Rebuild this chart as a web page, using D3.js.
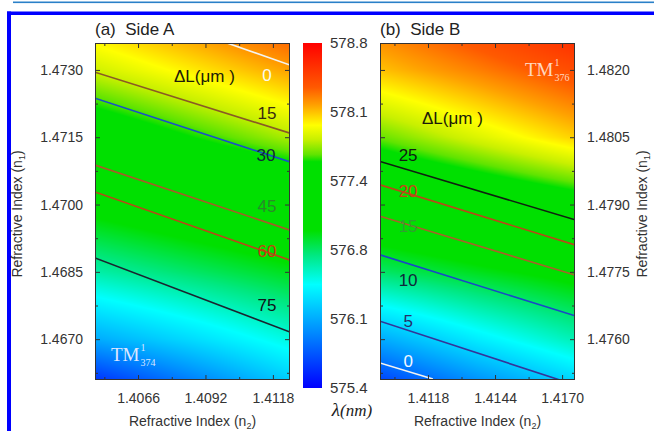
<!DOCTYPE html>
<html>
<head>
<meta charset="utf-8">
<script src="https://cdn.jsdelivr.net/npm/d3@7"></script>
<style>
  body { margin: 0; background: #fff; }
  svg { display: block; font-family: "Liberation Sans", Arial, sans-serif; }
</style>
</head>
<body>
<script>
// wavelength colour bar
const lambdaTickValues = [575.4, 576.08, 576.76, 577.44, 578.12, 578.8];
const lambdaStops = [575.4, 575.97, 576.42, 576.71, 576.95, 577.63, 577.7, 577.85, 577.99, 578.19, 578.36, 578.8];
const lambdaColors = ['#0000ff', '#0090ff', '#00ffff', '#00e880', '#00e000', '#00e000', '#60e400', '#c8f000', '#ffff00', '#ffa000', '#ff5a00', '#ff0000'];

// side A : wavelength read at grid nodes (rows = n1 ascending, cols = n2)
const gridA_n2 = [1.40494, 1.4087, 1.41246];
const gridA_n1 = [1.46609, 1.4670, 1.4685, 1.4700, 1.4715, 1.4730, 1.4736];
const gridA_lambda = [
    [575.60, 575.91, 576.22],
    [576.08, 576.28, 576.49],
    [576.62, 576.76, 576.90],
    [577.03, 577.17, 577.30],
    [577.44, 577.63, 577.81],
    [577.87, 578.03, 578.19],
    [578.00, 578.16, 578.32]
];
// side B
const gridB_n2 = [1.40994, 1.41372, 1.4175];
const gridB_n1 = [1.47509, 1.4760, 1.4775, 1.4790, 1.4805, 1.4820, 1.4826];
const gridB_lambda = [
    [575.67, 575.98, 576.25],
    [576.08, 576.35, 576.59],
    [576.76, 576.90, 577.03],
    [577.24, 577.37, 577.51],
    [577.71, 577.90, 578.09],
    [578.12, 578.27, 578.43],
    [578.22, 578.39, 578.56]
];

// delta L contours : [n2, n1] points
const levelsA = [0, 15, 30, 45, 60, 75];
const linesA = [
    [[1.41003, 1.4736], [1.41246, 1.47311]],
    [[1.40494, 1.47295], [1.41246, 1.47159]],
    [[1.40494, 1.47237], [1.41246, 1.47095]],
    [[1.40494, 1.47088], [1.41246, 1.46943]],
    [[1.40494, 1.47028], [1.41246, 1.46876]],
    [[1.40494, 1.46881], [1.41246, 1.46716]]
];
const labelPosA = [[1.41157, 1.47289], [1.41157, 1.47204], [1.41153, 1.47110], [1.41157, 1.46997], [1.41157, 1.46897], [1.41157, 1.46776]];

const levelsB = [25, 20, 15, 10, 5, 0];
const linesB = [
    [[1.40994, 1.47996], [1.4175, 1.47866]],
    [[1.40994, 1.47944], [1.4175, 1.47810]],
    [[1.40994, 1.47874], [1.4175, 1.47743]],
    [[1.40994, 1.47788], [1.4175, 1.47652]],
    [[1.40994, 1.47640], [1.4175, 1.47498]],
    [[1.40994, 1.47547], [1.41199, 1.47511]]
];
const labelPosB = [[1.41103, 1.48010], [1.41103, 1.47930], [1.41103, 1.47852], [1.41103, 1.47732], [1.41103, 1.47640], [1.41103, 1.47551]];

const lineColorsA = ['#f4f4f0', '#8a5a24', '#1a50c8', '#a85a28', '#b84818', '#1a2430'];
const textColorsA = ['#fafaf0', '#3a2a10', '#102838', '#2a8a2a', '#c83a10', '#101418'];
const lineColorsB = ['#102010', '#b84818', '#a8602a', '#1a48c8', '#34349a', '#f4f4f0'];
const textColorsB = ['#101c10', '#c84018', '#30a030', '#10283a', '#26306a', '#f4f8ff'];

const width = 654, height = 431;

const color = d3.scaleLinear().domain(lambdaStops).range(lambdaColors).clamp(true);

const svg = d3.select("body").append("svg")
    .attr("width", width)
    .attr("height", height);

// page frame lines
svg.append("rect").attr("x", 13).attr("y", 1.5).attr("width", width - 13).attr("height", 1.6).attr("fill", "#2a80c8");
svg.append("rect").attr("x", 7).attr("y", 11.5).attr("width", width - 7).attr("height", 3.5).attr("fill", "#0000ff");
svg.append("rect").attr("x", 7).attr("y", 11.5).attr("width", 4).attr("height", height).attr("fill", "#0000ff");

function bilinear(gx, gy, gv, x, y) {
    let i = Math.min(Math.max(d3.bisectRight(gy, y) - 1, 0), gy.length - 2);
    let j = Math.min(Math.max(d3.bisectRight(gx, x) - 1, 0), gx.length - 2);
    let ty = (y - gy[i]) / (gy[i + 1] - gy[i]);
    let tx = (x - gx[j]) / (gx[j + 1] - gx[j]);
    let a = gv[i][j] * (1 - tx) + gv[i][j + 1] * tx;
    let b = gv[i + 1][j] * (1 - tx) + gv[i + 1][j + 1] * tx;
    return a * (1 - ty) + b * ty;
}

function drawPanel(opt) {
    const x = d3.scaleLinear().domain(opt.xDomain).range([opt.left, opt.left + 195]);
    const y = d3.scaleLinear().domain(opt.yDomain).range([380, 43]);
    const w = 195, h = 337;

    // heatmap
    const canvas = document.createElement("canvas");
    canvas.width = w; canvas.height = h;
    const ctx = canvas.getContext("2d");
    const img = ctx.createImageData(w, h);
    for (let py = 0; py < h; py++) {
        const n1 = y.invert(43 + py + 0.5);
        for (let px = 0; px < w; px++) {
            const n2 = x.invert(opt.left + px + 0.5);
            const c = d3.rgb(color(bilinear(opt.gx, opt.gy, opt.gv, n2, n1)));
            const k = (py * w + px) * 4;
            img.data[k] = c.r; img.data[k + 1] = c.g; img.data[k + 2] = c.b; img.data[k + 3] = 255;
        }
    }
    ctx.putImageData(img, 0, 0);
    svg.append("image")
        .attr("x", opt.left).attr("y", 43)
        .attr("width", w).attr("height", h)
        .attr("href", canvas.toDataURL());

    svg.append("clipPath").attr("id", opt.id + "clip")
        .append("rect").attr("x", opt.left).attr("y", 43).attr("width", w).attr("height", h);

    const line = d3.line().x(d => x(d[0])).y(d => y(d[1]));
    svg.append("g").attr("clip-path", "url(#" + opt.id + "clip)")
        .selectAll("path")
        .data(opt.lines)
        .enter()
        .append("path")
        .attr("d", line)
        .attr("fill", "none")
        .attr("stroke", (d, i) => opt.lineColors[i])
        .attr("stroke-width", 1.6);

    svg.append("g").selectAll("text")
        .data(opt.levels)
        .enter()
        .append("text")
        .attr("x", (d, i) => x(opt.labelPos[i][0]))
        .attr("y", (d, i) => y(opt.labelPos[i][1]))
        .attr("dy", "0.36em")
        .attr("text-anchor", "middle")
        .attr("font-size", 17)
        .attr("fill", (d, i) => opt.textColors[i])
        .text(d => d);

    // axes with inward ticks
    const fmt = d3.format(".4f");
    const tickStyle = g => {
        g.select(".domain").remove();
        g.selectAll("line").attr("stroke", "#333");
        g.selectAll("text").attr("fill", "#333").attr("font-size", 14)
            .attr("font-family", '"Liberation Sans", Arial, sans-serif');
    };
    svg.append("g").attr("transform", "translate(0,380)")
        .call(d3.axisBottom(x).tickValues(opt.xMajor).tickSize(-5).tickPadding(13).tickFormat(fmt)).call(tickStyle);
    svg.append("g").attr("transform", "translate(0,380)")
        .call(d3.axisBottom(x).tickValues(opt.xMinor).tickSize(-3).tickFormat("")).call(tickStyle);
    svg.append("g").attr("transform", "translate(0,43)")
        .call(d3.axisTop(x).tickValues(opt.xMajor).tickSize(-5).tickFormat("")).call(tickStyle);
    svg.append("g").attr("transform", "translate(0,43)")
        .call(d3.axisTop(x).tickValues(opt.xMinor).tickSize(-3).tickFormat("")).call(tickStyle);

    const L = opt.left, R = opt.left + w;
    svg.append("g").attr("transform", "translate(" + L + ",0)")
        .call(d3.axisLeft(y).tickValues(opt.yMajor).tickSize(-5).tickPadding(12).tickFormat(opt.labelSide === "left" ? fmt : "")).call(tickStyle);
    svg.append("g").attr("transform", "translate(" + L + ",0)")
        .call(d3.axisLeft(y).tickValues(opt.yMinor).tickSize(-3).tickFormat("")).call(tickStyle);
    svg.append("g").attr("transform", "translate(" + R + ",0)")
        .call(d3.axisRight(y).tickValues(opt.yMajor).tickSize(-5).tickPadding(12).tickFormat(opt.labelSide === "right" ? fmt : "")).call(tickStyle);
    svg.append("g").attr("transform", "translate(" + R + ",0)")
        .call(d3.axisRight(y).tickValues(opt.yMinor).tickSize(-3).tickFormat("")).call(tickStyle);

    svg.append("rect").attr("x", L + 0.5).attr("y", 43.5).attr("width", w - 1).attr("height", h - 1)
        .attr("fill", "none").attr("stroke", "#333").attr("stroke-width", 1);

    // title
    svg.append("text").attr("x", L).attr("y", 35).attr("font-size", 17).attr("fill", "#222")
        .attr("xml:space", "preserve").text(opt.title);

    // delta L caption
    svg.append("text").attr("x", opt.dlX).attr("y", opt.dlY).attr("font-size", 17).attr("fill", "#1c1c08")
        .attr("dy", "0.36em").text("\u0394L(\u03bcm )");

    // x-axis title
    const xt = svg.append("text").attr("x", L + w / 2).attr("y", 426).attr("text-anchor", "middle")
        .attr("font-size", 14).attr("fill", "#333");
    xt.append("tspan").text("Refractive Index (n");
    xt.append("tspan").attr("font-size", 9).attr("dy", 3).text("2");
    xt.append("tspan").attr("dy", -3).text(")");

    // TM mode label
    const tm = svg.append("g").attr("transform", "translate(" + opt.tmX + "," + opt.tmY + ")")
        .attr("font-family", '"Liberation Serif", "Times New Roman", serif').attr("fill", opt.tmColor);
    const tmt = tm.append("text").attr("font-size", 19).text("TM");
    const tw = tmt.node().getComputedTextLength();
    tm.append("text").attr("x", tw + 1).attr("y", -10).attr("font-size", 10).text("1");
    tm.append("text").attr("x", tw + 1).attr("y", 5).attr("font-size", 10).text(opt.tmSub);
}

drawPanel({
    id: "a", left: 95,
    xDomain: [1.40494, 1.41246], yDomain: [1.46609, 1.4736],
    gx: gridA_n2, gy: gridA_n1, gv: gridA_lambda,
    lines: linesA, levels: levelsA, labelPos: labelPosA,
    lineColors: lineColorsA, textColors: textColorsA,
    xMajor: [1.4066, 1.4092, 1.4118], xMinor: [1.4053, 1.4079, 1.4105],
    yMajor: [1.4670, 1.4685, 1.4700, 1.4715, 1.4730], yMinor: [1.46625, 1.46775, 1.46925, 1.47075, 1.47225],
    labelSide: "left", title: "(a)  Side A",
    dlX: 174, dlY: 76,
    tmX: 111, tmY: 361, tmSub: "374", tmColor: "#dde6ff"
});

drawPanel({
    id: "b", left: 380,
    xDomain: [1.40994, 1.4175], yDomain: [1.47509, 1.4826],
    gx: gridB_n2, gy: gridB_n1, gv: gridB_lambda,
    lines: linesB, levels: levelsB, labelPos: labelPosB,
    lineColors: lineColorsB, textColors: textColorsB,
    xMajor: [1.4118, 1.4144, 1.4170], xMinor: [1.4105, 1.4131, 1.4157],
    yMajor: [1.4760, 1.4775, 1.4790, 1.4805, 1.4820], yMinor: [1.47525, 1.47675, 1.47825, 1.47975, 1.48125],
    labelSide: "right", title: "(b)  Side B",
    dlX: 422, dlY: 118,
    tmX: 525, tmY: 76, tmSub: "376", tmColor: "#ffd8c0"
});

// y-axis titles
function yTitle(cx) {
    const t = svg.append("text").attr("transform", "translate(" + cx + ",214) rotate(-90)")
        .attr("text-anchor", "middle").attr("font-size", 14).attr("fill", "#333");
    t.append("tspan").text("Refractive Index (n");
    t.append("tspan").attr("font-size", 9).attr("dy", 3).text("1");
    t.append("tspan").attr("dy", -3).text(")");
}
yTitle(22);
yTitle(647);

// colour bar
const cy = d3.scaleLinear().domain([575.4, 578.8]).range([388, 43]);
const grad = svg.append("defs").append("linearGradient").attr("id", "cbar")
    .attr("x1", 0).attr("y1", 1).attr("x2", 0).attr("y2", 0);
grad.selectAll("stop").data(lambdaStops).enter().append("stop")
    .attr("offset", d => (d - 575.4) / (578.8 - 575.4))
    .attr("stop-color", (d, i) => lambdaColors[i]);
svg.append("rect").attr("x", 303).attr("y", 43).attr("width", 19).attr("height", 345).attr("fill", "url(#cbar)");

svg.append("g").selectAll("text")
    .data(lambdaTickValues)
    .enter()
    .append("text")
    .attr("x", 330)
    .attr("y", d => cy(d))
    .attr("dy", "0.36em")
    .attr("font-size", 15)
    .attr("fill", "#333")
    .text(d => d3.format(".1f")(d));

const lt = svg.append("text").attr("x", 352).attr("y", 416).attr("text-anchor", "middle")
    .attr("font-family", '"Liberation Serif", "Times New Roman", serif').attr("font-style", "italic")
    .attr("font-size", 19).attr("fill", "#222");
lt.append("tspan").text("\u03bb");
lt.append("tspan").attr("font-size", 17).text("(nm)");
</script>
</body>
</html>
